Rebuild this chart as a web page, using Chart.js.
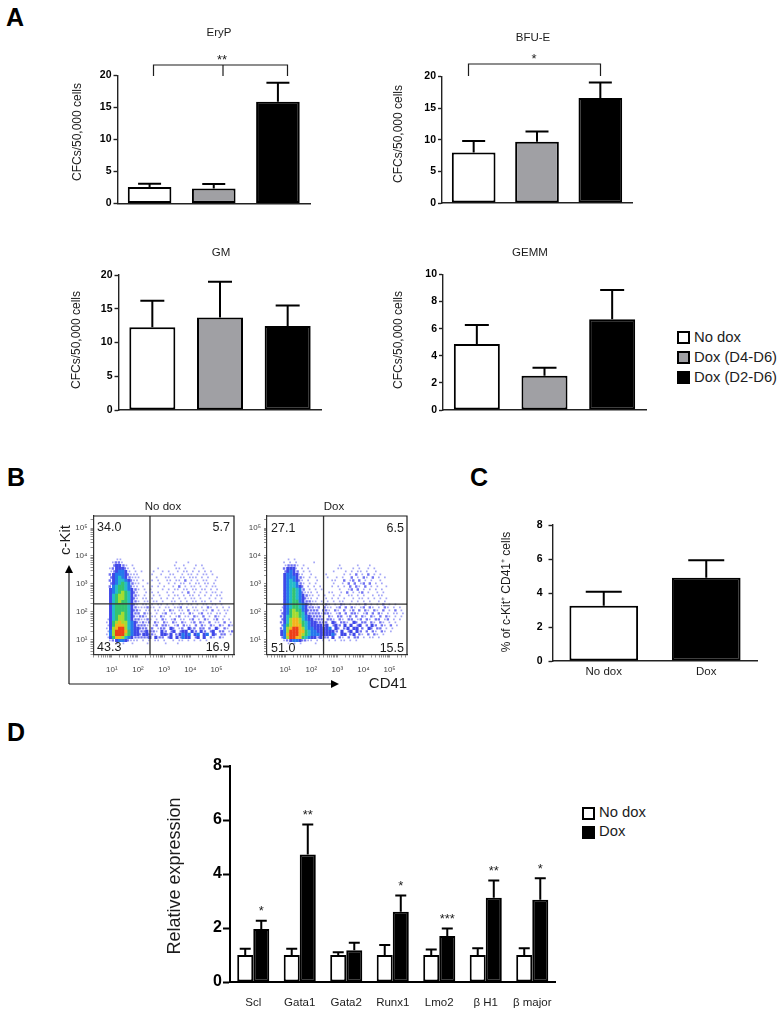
<!DOCTYPE html>
<html>
<head>
<meta charset="utf-8">
<title>CFC, flow and expression panels</title>
<script src="https://cdn.jsdelivr.net/npm/chart.js@4/dist/chart.umd.min.js"></script>
<style>
  html, body { margin: 0; padding: 0; background: #fff; }
  body { position: relative; width: 784px; height: 1015px; overflow: hidden; font-family: "Liberation Sans", Arial, sans-serif; color: #1c1c1c; }
  canvas { position: absolute; left: 0; top: 0; }
  .letter { position: absolute; font-size: 25px; font-weight: bold; color: #000; line-height: 25px; }
  .legend { position: absolute; font-size: 14.8px; line-height: 20px; }
  .legend div { position: relative; padding-left: 17px; height: 20px; }
  .legend i { position: absolute; left: 0; top: 4px; width: 9px; height: 9px; border: 2px solid #000; }
</style>
</head>
<body>
<div class="letter" style="left:6px;top:5px">A</div>
<div class="letter" style="left:7px;top:465px">B</div>
<div class="letter" style="left:470px;top:465px">C</div>
<div class="letter" style="left:7px;top:720px">D</div>

<div class="legend" style="left:677px;top:327px">
  <div><i style="background:#fff"></i>No dox</div>
  <div><i style="background:#a0a0a4"></i>Dox (D4-D6)</div>
  <div><i style="background:#000"></i>Dox (D2-D6)</div>
</div>
<div class="legend" style="left:582px;top:803px;line-height:19px">
  <div style="height:19px"><i style="background:#fff"></i>No dox</div>
  <div style="height:19px"><i style="background:#000"></i>Dox</div>
</div>

<script>
// Panel A
var cfcGroups = ['No dox', 'Dox (D4-D6)', 'Dox (D2-D6)'];
var eryP = [2.56, 2.35, 15.9];
var eryPTop = [3.08, 3.03, 18.85];
var bfuE = [8.0, 9.7, 16.6];
var bfuETop = [9.8, 11.3, 19.05];
var gm = [12.25, 13.7, 12.45];
var gmTop = [16.2, 19.0, 15.5];
var gemm = [4.87, 2.53, 6.7];
var gemmTop = [6.27, 3.12, 8.85];

// Panel C
var kitGroups = ['No dox', 'Dox'];
var kitCells = [3.25, 4.9];
var kitCellsTop = [4.07, 5.92];

// Panel D
var genes = ['Scl', 'Gata1', 'Gata2', 'Runx1', 'Lmo2', 'β H1', 'β major'];
var exprNoDox = [1.0, 1.0, 1.0, 1.0, 1.0, 1.0, 1.0];
var exprNoDoxTop = [1.23, 1.23, 1.1, 1.37, 1.2, 1.25, 1.25];
var exprDox = [1.96, 4.72, 1.18, 2.6, 1.7, 3.12, 3.05];
var exprDoxTop = [2.27, 5.83, 1.45, 3.2, 1.98, 3.76, 3.84];
var exprStars = ['*', '**', '', '*', '***', '**', '*'];

// Panel B, density: one char per small cell, '.' is empty, 1-9 is sparse to hottest
var densityNoDox = [
  '',
  '.....11',
  '....1221.................1...1',
  '....23321.1.............1..1...1.1',
  '...1233321.1.......1.....11.1..1..1',
  '...1234431.1.1...1..1.1..1.11.1.1.1.1',
  '...2344432111....1..1..11..1.11.1.11.1',
  '...2345432111.....1..11.1.11.111.1.1..1',
  '...2345543211.1..1.1..11.11.2.1.1.11..1',
  '...2345654211..1...1..1.1.11.1.11.11.1',
  '...2456654211.1..1.1.1..1.2.1.11.1.1.11',
  '...3456654321.1.1...1.1.11.11.11.11.1.1',
  '...3456765321..1.1.1..1.1..1.2.1.1.1.11.1',
  '...3567765321.1..1.1..1.11.1.11.1.1.1.11',
  '...3567765321.11.1..1.1.1.1.1.11.1..1.1.1',
  '...3567665321.11.11.1..11.1.1.11.11.1..1',
  '...3566665321.11.1.11.1.1.11.11.1.11.11.1',
  '...356666532111211.1.11.112.1.11.1.21.1.1.1',
  '...35666653221.11.11.1.21.11.2.11.11.2.1.11',
  '...3566765322.211.1.12.11.11.21.12.11.11.1',
  '...3567765321221.11.21.1.12.11.21.2.1.21.1',
  '..135677653221121.1.21.12.11.12.1.21.12.1.1',
  '..136787754321212.21.21.21.21.12.21.2.11.2.1',
  '..13688875432221.12.221.12.211.2.21.21.21.21',
  '..13789975433222.2.122.32.12.312.22.2.31.21',
  '..14799986433223221.32.23.233.32.32.23.22.12',
  '..14799976433233221.3323.23434.34.34.32.22.1',
  '..136887543222223.322.23.32433.23.3.21.21',
  '...1234432111.1.1.11.1..1.11.1.1.1.1',
  '.....1.1..1....1.....1...1',
  ''
];
var densityDox = [
  '',
  '....1.1',
  '...1.1.1.....1',
  '...12221.1...........1.....1...1',
  '...23331.1.1.........11...1.1..1.1',
  '...23432.1.1.......1...1.1.11.1..1',
  '...3443311..1....1.....1.1.2.1.2.1.1',
  '...3444321.1.1...1..1.1..2.1.21.2.1.1',
  '...3454321.1..1....11..2.12.2.1.1..1',
  '...3455421.1.1.....1..1.2.2.12.2.1.1',
  '...3455432.1.1.1...1.1.1.2.21.2.1.1..1',
  '...3456542.1.1.1.....1..12.2.1.1.1.1',
  '...3456542111.1...11..1.2.1.12.1..1.1',
  '...3456543211.1.1..1.1..11.1.1..1.11',
  '...3456543211.1..1.1.1.1..1.11.1.1.1.1',
  '...34566432211.1.1.1.11..1.1.1.1..1.1',
  '...345665432211.121.1.21.1.11.2.1.1.2.1.1',
  '..1345665432212.211.12.2.21.12.21.1.21.1.1',
  '..1346766432222.221.21.2.12.2.21.21.2.1.2.1',
  '..23467765322221221.12.2.221.12.2.21.1.11.1',
  '..235677654322221.21.22.12.2.21.21.2.21.1.1',
  '..23578875433222.221.21.22.12.21.22.12.1.1',
  '..2357887654332222.32.221.32.22.21.21.1.1',
  '..2467888654333323.232.3.3.23.2.32.21.2.1',
  '..24789987544333334.32.23.33.2.32.22.1.1',
  '..3479998865443333332.3.23.32.2.21.21.1',
  '..3489998765444333342.33.23.21.2.21.1',
  '..2479988654332322.3.21.2.22.1.11.1',
  '...1234432211.1.1.1.1.11.1.1',
  '....1.1.1....1',
  ''
];
var gateNoDox = { x: 288, y: 193 };
var gateDox = { x: 295, y: 190 };

var WHITE = '#ffffff', GREY = '#a0a0a4', BLACK = '#000000', INK = '#1c1c1c';
var AXIS_W = 60, AXIS_H = 30;  // room kept for each axis, labels get clipped to it
Chart.defaults.font.family = '"Liberation Sans", Arial, sans-serif';
Chart.defaults.color = INK;
Chart.defaults.animation = false;

// canvases all cover the whole page, so the padding puts the plot at its page position
function addCanvas() {
    var c = document.createElement('canvas');
    c.width = 784;
    c.height = 1015;
    document.body.appendChild(c);
    return c;
}
function plotPadding(box) {
    return { left: box.l - AXIS_W, top: box.t, right: 784 - box.r, bottom: 1015 - box.b - AXIS_H };
}

// upper error bars with a cap, from the dataset's errTop values
var errorBars = {
    id: 'errorBars',
    afterDatasetsDraw: function (chart) {
        var ctx = chart.ctx, y = chart.scales.y;
        chart.data.datasets.forEach(function (ds, i) {
            chart.getDatasetMeta(i).data.forEach(function (bar, k) {
                var top = y.getPixelForValue(ds.errTop[k]);
                var cap = ds.capWidth / 2;
                ctx.save();
                ctx.strokeStyle = '#000';
                ctx.lineWidth = ds.errWidth;
                ctx.beginPath();
                ctx.moveTo(bar.x, bar.y);
                ctx.lineTo(bar.x, top);
                ctx.moveTo(bar.x - cap, top);
                ctx.lineTo(bar.x + cap, top);
                ctx.stroke();
                ctx.restore();
            });
        });
    }
};

// free text, brackets and arrows around a plot
function notes(texts, lines, polys) {
    return {
        id: 'notes',
        afterDraw: function (chart) {
            var ctx = chart.ctx;
            ctx.save();
            ctx.strokeStyle = INK;
            ctx.lineWidth = 1.2;
            (lines || []).forEach(function (p) {
                ctx.beginPath();
                ctx.moveTo(p[0], p[1]);
                for (var i = 2; i < p.length; i += 2) ctx.lineTo(p[i], p[i + 1]);
                ctx.stroke();
            });
            ctx.fillStyle = '#000';
            (polys || []).forEach(function (p) {
                ctx.beginPath();
                ctx.moveTo(p[0], p[1]);
                for (var i = 2; i < p.length; i += 2) ctx.lineTo(p[i], p[i + 1]);
                ctx.fill();
            });
            ctx.fillStyle = INK;
            ctx.textBaseline = 'middle';
            (texts || []).forEach(function (t) {
                ctx.save();
                ctx.font = (t.font || '11.5px') + ' "Liberation Sans", Arial, sans-serif';
                ctx.textAlign = t.align || 'center';
                ctx.translate(t.x, t.y);
                if (t.rot) ctx.rotate(-Math.PI / 2);
                ctx.fillText(t.t, 0, 0);
                ctx.restore();
            });
            ctx.restore();
        }
    };
}

function barChart(cfg) {
    return new Chart(addCanvas(), {
        type: 'bar',
        data: { labels: cfg.labels, datasets: cfg.datasets },
        options: {
            responsive: false,
            layout: { padding: plotPadding(cfg.box) },
            plugins: { legend: { display: false }, tooltip: { enabled: false } },
            scales: {
                x: {
                    afterFit: function (s) { s.height = AXIS_H; },
                    grid: { display: false, drawTicks: false },
                    border: { color: cfg.axisColor, width: cfg.axisWidth },
                    ticks: { display: !!cfg.xFont, font: cfg.xFont, color: INK, padding: cfg.xPad, autoSkip: false, maxRotation: 0 }
                },
                y: {
                    min: 0,
                    max: cfg.max,
                    afterFit: function (s) { s.width = AXIS_W; },
                    grid: { drawOnChartArea: false, tickLength: cfg.tickLength, tickColor: cfg.axisColor, tickWidth: cfg.axisWidth },
                    border: { color: cfg.axisColor, width: cfg.axisWidth },
                    ticks: { stepSize: cfg.step, font: cfg.yFont, color: '#000', padding: cfg.yPad }
                }
            }
        },
        plugins: [errorBars, notes(cfg.texts, cfg.lines)].concat(cfg.plugins || [])
    });
}

function threeBars(values, tops, barPct, cap) {
    return [{
        data: values,
        errTop: tops,
        capWidth: cap,
        errWidth: 2,
        backgroundColor: [WHITE, GREY, BLACK],
        borderColor: BLACK,
        borderWidth: 2,
        borderSkipped: false,
        barPercentage: barPct,
        categoryPercentage: 1
    }];
}

var AXIS_A = { axisColor: '#222', axisWidth: 1.4, tickLength: 4, yPad: 2, yFont: { size: 10.5, weight: 'bold' } };

barChart(Object.assign({
    labels: cfcGroups, box: { l: 117.5, t: 75.5, r: 310, b: 203.5 }, max: 20, step: 5,
    datasets: threeBars(eryP, eryPTop, 0.68, 23),
    texts: [{ t: 'EryP', x: 219, y: 33 }, { t: 'CFCs/50,000 cells', x: 78, y: 132, rot: true, font: '12px' }, { t: '**', x: 222, y: 60, font: '13px' }],
    lines: [[153.5, 76, 153.5, 65, 287.5, 65, 287.5, 76], [223, 65, 223, 76]]
}, AXIS_A));

barChart(Object.assign({
    labels: cfcGroups, box: { l: 442, t: 76.5, r: 632, b: 203 }, max: 20, step: 5,
    datasets: threeBars(bfuE, bfuETop, 0.69, 23),
    texts: [{ t: 'BFU-E', x: 533, y: 38 }, { t: 'CFCs/50,000 cells', x: 399, y: 134, rot: true, font: '12px' }, { t: '*', x: 534, y: 59, font: '13px' }],
    lines: [[468.5, 76, 468.5, 64, 600.5, 64, 600.5, 76]]
}, AXIS_A));

barChart(Object.assign({
    labels: cfcGroups, box: { l: 118.5, t: 275, r: 321.5, b: 410 }, max: 20, step: 5,
    datasets: threeBars(gm, gmTop, 0.68, 24),
    texts: [{ t: 'GM', x: 221, y: 253 }, { t: 'CFCs/50,000 cells', x: 77, y: 340, rot: true, font: '12px' }]
}, AXIS_A));

barChart(Object.assign({
    labels: cfcGroups, box: { l: 443, t: 274.5, r: 646, b: 410 }, max: 10, step: 2,
    datasets: threeBars(gemm, gemmTop, 0.68, 24),
    texts: [{ t: 'GEMM', x: 530, y: 253 }, { t: 'CFCs/50,000 cells', x: 399, y: 340, rot: true, font: '12px' }]
}, AXIS_A));

barChart(Object.assign({}, AXIS_A, {
    labels: kitGroups, box: { l: 552.5, t: 525, r: 757.5, b: 661 }, max: 8, step: 2,
    yPad: 6,
    datasets: [{
        data: kitCells,
        errTop: kitCellsTop,
        capWidth: 36,
        errWidth: 2,
        backgroundColor: [WHITE, BLACK],
        borderColor: BLACK,
        borderWidth: 2,
        borderSkipped: false,
        barPercentage: 0.67,
        categoryPercentage: 1
    }],
    xFont: { size: 11.5 }, xPad: 4,
    texts: [{ t: '% of c-Kit⁺ CD41⁺ cells', x: 507, y: 592, rot: true, font: '12px' }]
}));

// stars sit just above each error bar
var starLabels = {
    id: 'starLabels',
    afterDraw: function (chart) {
        var ctx = chart.ctx, y = chart.scales.y, bars = chart.getDatasetMeta(1).data;
        ctx.save();
        ctx.fillStyle = INK;
        ctx.font = '13px "Liberation Sans", Arial, sans-serif';
        ctx.textAlign = 'center';
        ctx.textBaseline = 'middle';
        exprStars.forEach(function (s, i) {
            if (s) ctx.fillText(s, bars[i].x, y.getPixelForValue(exprDoxTop[i]) - 9);
        });
        ctx.restore();
    }
};

barChart({
    labels: genes, box: { l: 230, t: 766, r: 555.5, b: 982 }, max: 8, step: 2,
    axisColor: '#000', axisWidth: 2, tickLength: 7, yPad: 1,
    yFont: { size: 16, weight: 'bold' },
    xFont: { size: 11.5 }, xPad: 14,
    datasets: [
        { data: exprNoDox, errTop: exprNoDoxTop, capWidth: 11, errWidth: 2, backgroundColor: WHITE, borderColor: BLACK, borderWidth: 2, borderSkipped: false, barPercentage: 1, categoryPercentage: 0.69 },
        { data: exprDox, errTop: exprDoxTop, capWidth: 11, errWidth: 2, backgroundColor: BLACK, borderColor: BLACK, borderWidth: 2, borderSkipped: false, barPercentage: 1, categoryPercentage: 0.69 }
    ],
    texts: [{ t: 'Relative expression', x: 175, y: 876, rot: true, font: '18px' }],
    plugins: [starLabels]
});

// Panel B
var flowTicks = [];
[10, 100, 1000, 10000, 100000].forEach(function (d) {
    [0.2, 0.3, 0.4, 0.5, 0.6, 0.7, 0.8, 0.9, 1, 2, 3, 4].forEach(function (m) {
        if (flowTicks.indexOf(d * m) < 0) flowTicks.push(d * m);
    });
});
var decadeLabels = { 10: '10¹', 100: '10²', 1000: '10³', 10000: '10⁴', 100000: '10⁵' };

var levelStyle = [
    null,
    { r: 1.2, c: '#a4a6f6' },
    { r: 1.7, c: '#7072f2' },
    { r: 2.2, c: '#4048e8' },
    { r: 2.3, c: '#2478ec' },
    { r: 2.3, c: '#24bcc8' },
    { r: 2.3, c: '#34c470' },
    { r: 2.3, c: '#a4dc30' },
    { r: 2.3, c: '#f4b41c' },
    { r: 2.3, c: '#ee4018' }
];

// one scatter set per density level, cells are 3px in the plot, sparse rows staggered
function densitySets(rows, logX0, logY0) {
    var sets = [];
    for (var lv = 9; lv >= 1; lv--) {
        var pts = [];
        rows.forEach(function (row, r) {
            row.split('').forEach(function (ch, c) {
                if (ch === String(lv)) {
                    var shift = lv <= 2 ? (r % 2 ? 0.25 : -0.25) : 0;
                    pts.push({ x: Math.pow(10, logX0 + (c + 0.5 + shift) * 3 / 26), y: Math.pow(10, logY0 - (r + 0.5) * 3 / 28) });
                }
            });
        });
        sets.push({ data: pts, pointStyle: 'rect', pointRadius: levelStyle[lv].r, pointBackgroundColor: levelStyle[lv].c, pointBorderWidth: 0, showLine: false });
    }
    return sets;
}

function flowChart(cfg) {
    var gateX = { data: [{ x: cfg.gate.x, y: 3 }, { x: cfg.gate.x, y: 269000 }] };
    var gateY = { data: [{ x: 2, y: cfg.gate.y }, { x: 467000, y: cfg.gate.y }] };
    [gateX, gateY].forEach(function (g) {
        g.showLine = true;
        g.pointRadius = 0;
        g.borderColor = '#333';
        g.borderWidth = 1.3;
    });
    var box = cfg.box;
    return new Chart(addCanvas(), {
        type: 'scatter',
        data: { datasets: [gateX, gateY].concat(densitySets(cfg.rows, cfg.logX0, 4.036)) },
        options: {
            responsive: false,
            layout: { padding: plotPadding(box) },
            plugins: { legend: { display: false }, tooltip: { enabled: false } },
            scales: {
                x: {
                    type: 'logarithmic', min: 2, max: 467000,
                    afterFit: function (s) { s.height = AXIS_H; },
                    afterBuildTicks: function (s) { s.ticks = flowTicks.map(function (v) { return { value: v }; }); },
                    grid: { drawOnChartArea: false, tickLength: 3, tickColor: '#666', tickWidth: 0.7 },
                    border: { color: '#333', width: 1.2 },
                    ticks: {
                        autoSkip: false, maxRotation: 0, padding: 7, color: '#444', font: { size: 8 },
                        callback: function (v) { return decadeLabels[v] || ''; }
                    }
                },
                y: {
                    type: 'logarithmic', min: 3, max: 269000,
                    afterFit: function (s) { s.width = AXIS_W; },
                    afterBuildTicks: function (s) { s.ticks = flowTicks.filter(function (v) { return v >= 3 && v <= 269000; }).map(function (v) { return { value: v }; }); },
                    grid: { drawOnChartArea: false, tickLength: 3, tickColor: '#666', tickWidth: 0.7 },
                    border: { color: '#333', width: 1.2 },
                    ticks: {
                        autoSkip: false, padding: 3, color: '#444', font: { size: 8 },
                        callback: function (v) { return decadeLabels[v] || ''; }
                    }
                }
            }
        },
        plugins: [notes(cfg.texts, cfg.lines.concat([[box.l, box.t, box.r, box.t, box.r, box.b]]), cfg.polys)]
    });
}

flowChart({
    rows: densityNoDox, gate: gateNoDox, logX0: 0.55,
    box: { l: 93.5, t: 516, r: 234, b: 654.5 },
    texts: [
        { t: 'No dox', x: 163, y: 507 },
        { t: '34.0', x: 97, y: 528, align: 'left', font: '12.5px' },
        { t: '5.7', x: 230, y: 528, align: 'right', font: '12.5px' },
        { t: '43.3', x: 97, y: 648, align: 'left', font: '12.5px' },
        { t: '16.9', x: 230, y: 648, align: 'right', font: '12.5px' },
        { t: 'c-Kit', x: 66, y: 540, rot: true, font: '15px' },
        { t: 'CD41', x: 388, y: 684, font: '15px' }
    ],
    lines: [[69, 684, 69, 570], [69, 684, 334, 684]],
    polys: [[69, 565, 65, 573, 73, 573], [339, 684, 331, 680, 331, 688]]
});

flowChart({
    rows: densityDox, gate: gateDox, logX0: 0.58,
    box: { l: 267, t: 516, r: 407, b: 654.5 },
    texts: [
        { t: 'Dox', x: 334, y: 507 },
        { t: '27.1', x: 271, y: 529, align: 'left', font: '12.5px' },
        { t: '6.5', x: 404, y: 529, align: 'right', font: '12.5px' },
        { t: '51.0', x: 271, y: 649, align: 'left', font: '12.5px' },
        { t: '15.5', x: 404, y: 649, align: 'right', font: '12.5px' }
    ],
    lines: []
});
</script>
</body>
</html>
